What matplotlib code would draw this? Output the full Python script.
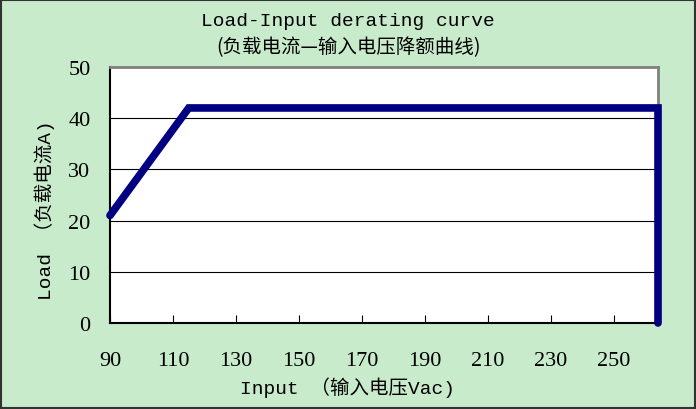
import matplotlib
matplotlib.use('Agg')
import matplotlib.pyplot as plt
from matplotlib.patches import Rectangle

# derating curve data
input_v = [90, 115, 264, 264]
load_a = [21, 42, 42, 0]
x_ticks = [90, 110, 130, 150, 170, 190, 210, 230, 250]
y_ticks = [0, 10, 20, 30, 40, 50]

bg = '#c8ebcb'
txt_font = ['Liberation Serif', 'Noto Sans CJK SC']
mono_font = ['Liberation Mono', 'Noto Sans CJK SC']
cjk_font = ['Noto Sans CJK SC', 'DejaVu Sans']

fig = plt.figure(figsize=(6.96, 4.10), dpi=100, facecolor=bg)
ax = fig.add_axes([110/696, 1-324/410, 548/696, 256/410])
ax.set_facecolor('white')

ax.plot(input_v, load_a, color='#000080', linewidth=5.5, solid_capstyle='round',
        solid_joinstyle='miter', clip_on=False, zorder=3)

ax.set_xlim(90, 264)
ax.set_ylim(0, 50)
ax.set_xticks(x_ticks)
ax.set_yticks(y_ticks)
for y in y_ticks[1:-1]:
    ax.axhline(y, color='black', linewidth=0.8, zorder=1)

ax.tick_params(axis='x', direction='in', length=6, pad=20, labelsize=16, color='black')
ax.tick_params(axis='y', length=0, pad=14, labelsize=16)
for lab in ax.get_xticklabels() + ax.get_yticklabels():
    lab.set_fontfamily(txt_font)

for s in ['top', 'right']:
    ax.spines[s].set_color('#808080')
    ax.spines[s].set_linewidth(2)
for s in ['left', 'bottom']:
    ax.spines[s].set_color('black')
    ax.spines[s].set_linewidth(1.5)

fig.text(0.5, 1-22/410, 'Load-Input derating curve', ha='center', va='center',
         fontsize=14, family=mono_font)
fig.text(0.5, 1-48/410, '(负载电流—输入电压降额曲线)', ha='center', va='center',
         fontsize=14, family=cjk_font)
fig.text(45/696, 1-210/410, 'Load （负载电流A)', rotation=90, ha='center', va='center',
         fontsize=14, family=mono_font)
fig.text(347/696, 1-388/410, 'Input （输入电压Vac)', ha='center', va='center',
         fontsize=14, family=mono_font)

# outer frame
fig.patches.append(Rectangle((0.002, 0.003), 0.996, 0.994, transform=fig.transFigure,
                             fill=False, edgecolor='#333333', linewidth=1.5))

fig.savefig('out.png', dpi=100, facecolor=bg)
